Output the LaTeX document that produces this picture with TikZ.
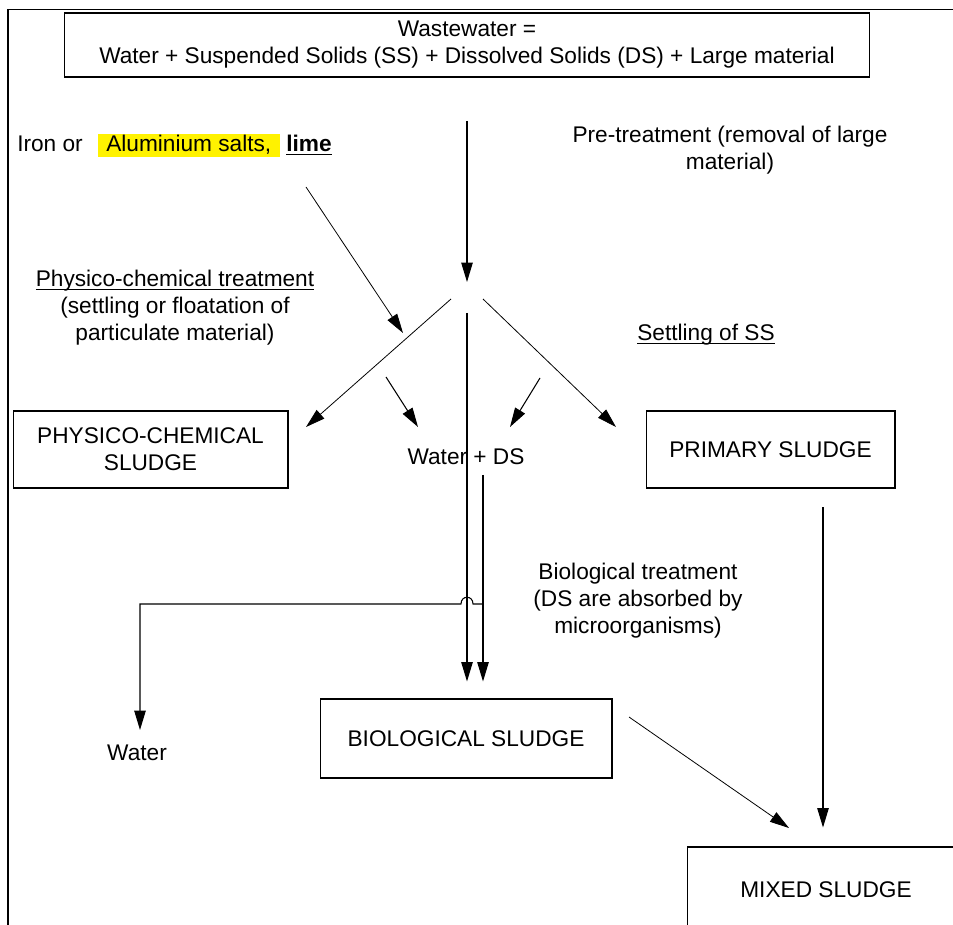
\documentclass[tikz,border=0pt]{standalone}
\usepackage{fontspec}
\setmainfont{Liberation Sans}
\usetikzlibrary{arrows.meta}
\newcommand{\uln}[1]{\setbox0\hbox{#1}\rlap{\rule[-1.8pt]{\wd0}{0.6pt}}\box0}

\begin{document}
\begin{tikzpicture}[x=0.02cm, y=-0.02cm, line width=0.6pt,
    >={Triangle[length=11pt,width=6.5pt]},
    every node/.style={font=\fontsize{12.9}{15.3}\selectfont, align=center},
    box/.style={draw, minimum height=1.54cm},
    lbl/.style={inner sep=1pt}]
  \path[use as bounding box, clip] (0,0) rectangle (953,925);
  % frame
  \draw (953,9.5) -- (8,9.5) -- (8,925);

  % wastewater in
  \node[box, minimum width=16.1cm, minimum height=1.28cm] (waste) at (467,45)
    {Wastewater =\\Water + Suspended Solids (SS) + Dissolved Solids (DS) + Large material};
  \node[lbl, anchor=base west] (iron) at (15,152) {Iron or};
  \node[lbl, anchor=base west, fill=yellow, inner xsep=5pt] (alum) at (97,152) {Aluminium salts,};
  \node[lbl, anchor=base west, font=\fontsize{12.9}{15.3}\selectfont\bfseries] (lime) at (284,152) {\uln{lime}};
  \node[lbl] (pretreat) at (730,150) {Pre-treatment (removal of large\\material)};

  % treatment labels
  \node[lbl] (physlbl) at (175,308) {\uln{Physico-chemical treatment}\\(settling or floatation of\\particulate material)};
  \node[lbl] (settle) at (706,335) {\uln{Settling of SS}};
  \node[lbl] (biolbl) at (638,601) {Biological treatment\\(DS are absorbed by\\microorganisms)};

  % sludges and water
  \node[box, minimum width=5.5cm] (physbox) at (150.5,449.5) {PHYSICO-CHEMICAL\\SLUDGE};
  \node[box, minimum width=4.98cm] (primbox) at (770.5,449.5) {PRIMARY SLUDGE};
  \node[lbl] (wds) at (466,457) {Water + DS};
  \node[box, minimum width=5.84cm, minimum height=1.58cm] (biobox) at (466,738.5) {BIOLOGICAL SLUDGE};
  \node[lbl] (water) at (137,753) {Water};
  \node[box, minimum width=5.56cm, minimum height=1.7cm] (mixbox) at (826,889.5) {MIXED SLUDGE};

  % connector ends
  \coordinate (top) at (467,121);
  \coordinate (hub) at (467,282);
  \coordinate (dose) at (306,187);
  \coordinate (dosetip) at (403,333);
  \coordinate (hubl) at (451,299);
  \coordinate (hubr) at (483,299);
  \coordinate (hubd) at (467,313);
  \coordinate (physin) at (306,427);
  \coordinate (primin) at (616,427);
  \coordinate (sepl) at (386,377);
  \coordinate (sepr) at (540,378);
  \coordinate (wdsl) at (418,427);
  \coordinate (wdsr) at (510,427);
  \coordinate (wdsout) at (483,475);
  \coordinate (split) at (483,604);
  \coordinate (primout) at (823,507);
  \coordinate (bioout) at (629,717);
  \coordinate (mixin) at (789,828);

  % flows
  \draw[->] (top) -- (hub);
  \draw[->, line width=0.45pt] (dose) -- (dosetip);
  \draw[->, line width=0.45pt] (hubl) -- (physin);
  \draw[->, line width=0.45pt] (hubr) -- (primin);
  \draw[->] (sepl) -- (wdsl);
  \draw[->] (sepr) -- (wdsr);
  \draw[->, shorten >=0.34cm] (hubd) -- (hubd |- biobox.north);
  \draw[->, shorten >=0.34cm] (wdsout) -- (wdsout |- biobox.north);
  \draw[->] (split) -- (473,604) .. controls (473,595) and (461,595) .. (461,604)
    -- (140,604) -- (140,730);
  \draw[->, shorten >=0.38cm] (primout) -- (primout |- mixbox.north);
  \draw[->, line width=0.45pt] (bioout) -- (mixin);
\end{tikzpicture}
\end{document}
